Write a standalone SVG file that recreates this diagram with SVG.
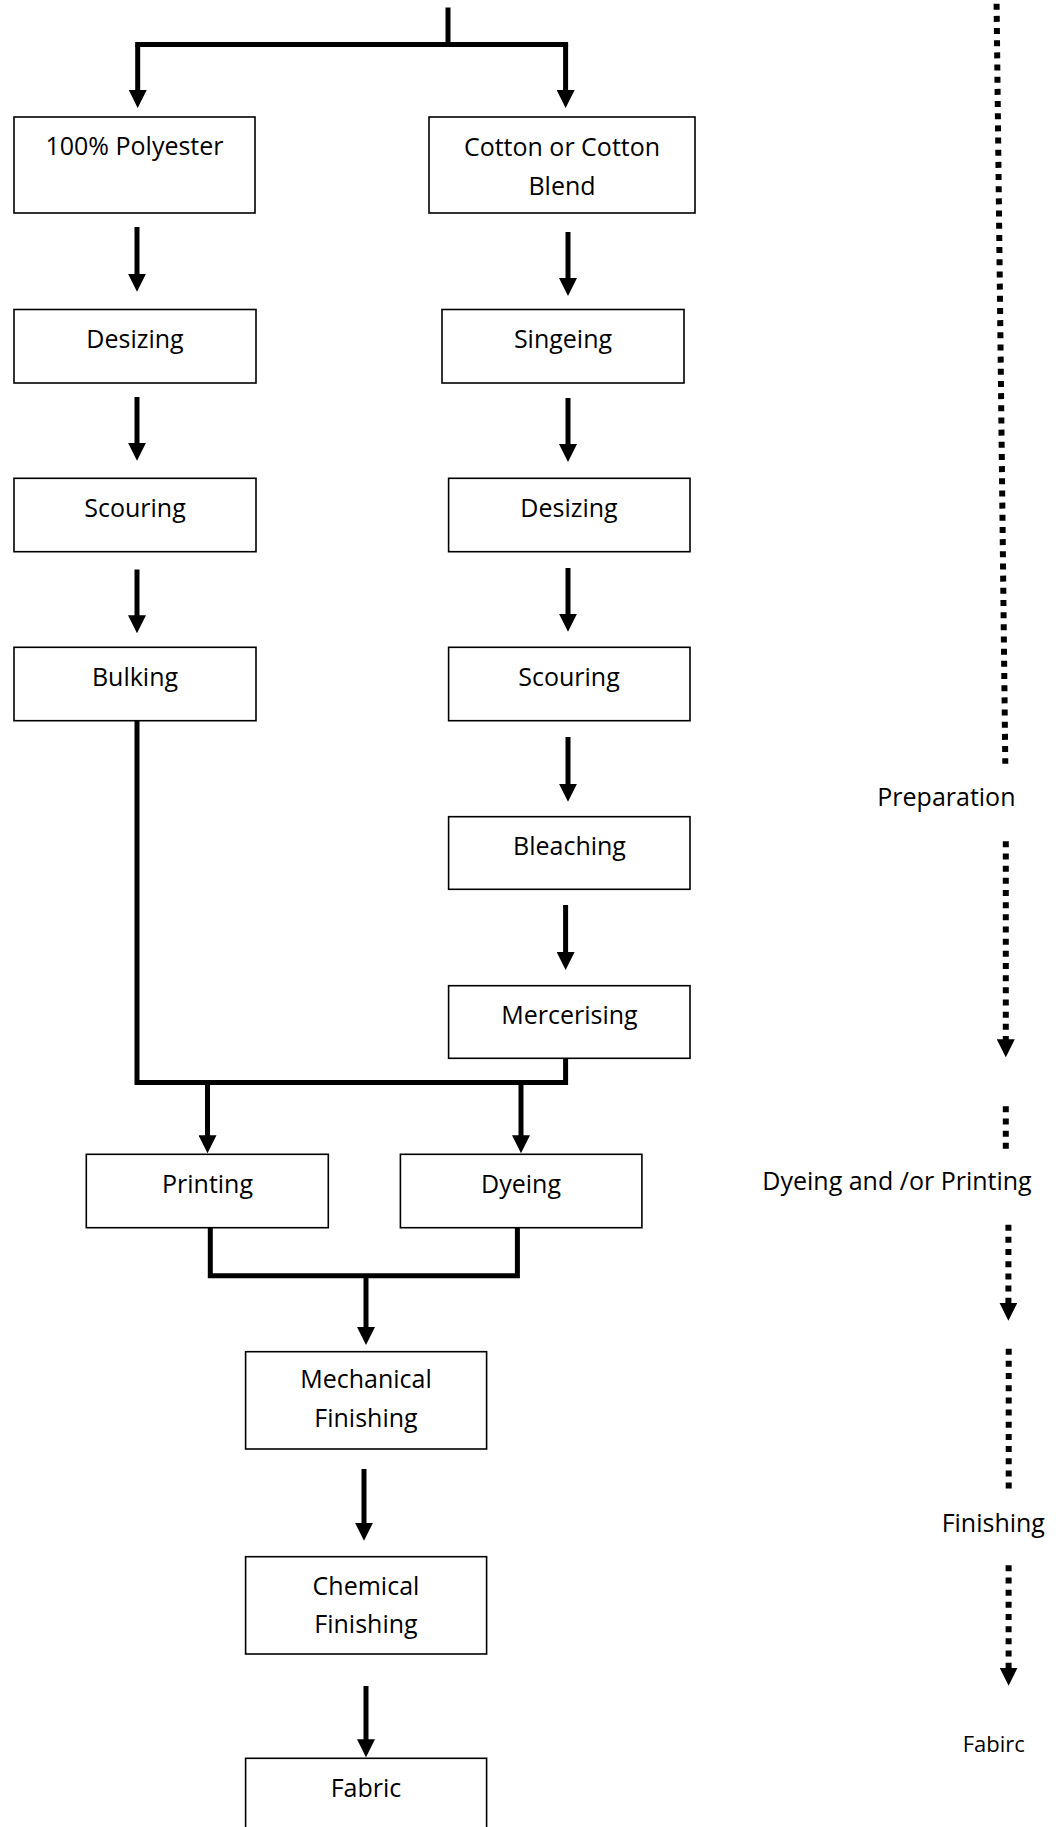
<svg xmlns="http://www.w3.org/2000/svg" width="1063" height="1827" viewBox="0 0 1063 1827">
  <style>
    .box { fill: #fff; stroke: #000; stroke-width: 1.6; }
    .lbl { font-family: "Open Sans", "Noto Sans", "Liberation Sans", sans-serif; font-size: 25px; fill: #000; text-anchor: middle; }
    .small { font-size: 22px; }
    .wire { fill: none; stroke: #000; stroke-width: 5; stroke-linecap: square; }
    .arrow { fill: none; stroke: #000; stroke-width: 5; marker-end: url(#head); }
    .dots { fill: none; stroke: #000; stroke-width: 6; stroke-dasharray: 6 6.17; }
    .dotarrow { fill: none; stroke: #000; stroke-width: 6; stroke-dasharray: 6 6.17; marker-end: url(#head); }
  </style>
  <defs>
    <marker id="head" markerUnits="userSpaceOnUse" markerWidth="18" markerHeight="18" refX="8" refY="9" orient="auto">
      <path d="M0,0 L18,9 L0,18 Z" fill="#000"/>
    </marker>
  </defs>
  <rect width="1063" height="1827" fill="#fff"/>

  <!-- process flow connectors -->
  <g id="connectors">
    <line class="wire" x1="448" y1="10" x2="448" y2="44.5"/>
    <line class="wire" x1="137.7" y1="44.5" x2="565.6" y2="44.5"/>
    <line class="arrow" x1="137.7" y1="44.5" x2="137.7" y2="98"/>
    <line class="arrow" x1="565.6" y1="44.5" x2="565.6" y2="98"/>

    <line class="arrow" x1="137" y1="227" x2="137" y2="281.7"/>
    <line class="arrow" x1="568" y1="232" x2="568" y2="286"/>
    <line class="arrow" x1="137" y1="397" x2="137" y2="450.7"/>
    <line class="arrow" x1="568" y1="398" x2="568" y2="452"/>
    <line class="arrow" x1="137" y1="569.5" x2="137" y2="623.3"/>
    <line class="arrow" x1="568" y1="568" x2="568" y2="621.7"/>
    <line class="arrow" x1="568" y1="737" x2="568" y2="791.7"/>
    <line class="arrow" x1="565.6" y1="905" x2="565.6" y2="960"/>

    <polyline class="wire" points="137,721 137,1082.5 565.6,1082.5 565.6,1058.5"/>
    <line class="arrow" x1="207.5" y1="1082.5" x2="207.5" y2="1143.3"/>
    <line class="arrow" x1="521" y1="1082.5" x2="521" y2="1143.3"/>

    <polyline class="wire" points="210.3,1228 210.3,1275.8 517.4,1275.8 517.4,1228"/>
    <line class="arrow" x1="366" y1="1275.8" x2="366" y2="1335"/>
    <line class="arrow" x1="364" y1="1469" x2="364" y2="1530.7"/>
    <line class="arrow" x1="366" y1="1686" x2="366" y2="1747.3"/>
  </g>

  <!-- stage timeline on the right -->
  <g id="stages">
    <line class="dots" x1="996.6" y1="3.7" x2="1005.3" y2="763.7"/>
    <line class="dotarrow" x1="1005.8" y1="841.3" x2="1005.8" y2="1047.3"/>
    <line class="dots" x1="1005.8" y1="1106.3" x2="1005.8" y2="1149.5"/>
    <line class="dotarrow" x1="1008.4" y1="1224.7" x2="1008.4" y2="1310.7"/>
    <line class="dots" x1="1008.7" y1="1348.7" x2="1008.7" y2="1488.5"/>
    <line class="dotarrow" x1="1008.6" y1="1565.3" x2="1008.6" y2="1675.7"/>
    <text class="lbl" x="946.4" y="806">Preparation</text>
    <text class="lbl" x="897" y="1190">Dyeing and /or Printing</text>
    <text class="lbl" x="993.3" y="1531.7">Finishing</text>
    <text class="lbl small" x="993.8" y="1751.7">Fabirc</text>
  </g>

  <g id="polyester">
    <rect class="box" x="14" y="117" width="241" height="96"/>
    <text class="lbl" x="134.5" y="155">100% Polyester</text>
  </g>
  <g id="cotton">
    <rect class="box" x="429" y="117" width="266" height="96"/>
    <text class="lbl" x="562" y="156">Cotton or Cotton</text>
    <text class="lbl" x="562" y="195">Blend</text>
  </g>
  <g id="desizing-poly">
    <rect class="box" x="14" y="309.5" width="242" height="73.5"/>
    <text class="lbl" x="135" y="348">Desizing</text>
  </g>
  <g id="singeing">
    <rect class="box" x="442" y="309.5" width="242" height="73.5"/>
    <text class="lbl" x="563" y="348">Singeing</text>
  </g>
  <g id="scouring-poly">
    <rect class="box" x="14" y="478.3" width="242" height="73.4"/>
    <text class="lbl" x="135" y="517">Scouring</text>
  </g>
  <g id="desizing-cotton">
    <rect class="box" x="448.6" y="478.3" width="241.4" height="73.4"/>
    <text class="lbl" x="569" y="517">Desizing</text>
  </g>
  <g id="bulking">
    <rect class="box" x="14" y="647.3" width="242" height="73.4"/>
    <text class="lbl" x="135" y="686">Bulking</text>
  </g>
  <g id="scouring-cotton">
    <rect class="box" x="448.6" y="647.3" width="241.4" height="73.4"/>
    <text class="lbl" x="569" y="686">Scouring</text>
  </g>
  <g id="bleaching">
    <rect class="box" x="448.6" y="816.7" width="241.4" height="72.6"/>
    <text class="lbl" x="569.5" y="855">Bleaching</text>
  </g>
  <g id="mercerising">
    <rect class="box" x="448.6" y="985.7" width="241.4" height="72.6"/>
    <text class="lbl" x="569.5" y="1023.5">Mercerising</text>
  </g>
  <g id="printing">
    <rect class="box" x="86.3" y="1154.3" width="242" height="73.4"/>
    <text class="lbl" x="207.5" y="1193">Printing</text>
  </g>
  <g id="dyeing">
    <rect class="box" x="400.4" y="1154.3" width="241.5" height="73.4"/>
    <text class="lbl" x="521" y="1193">Dyeing</text>
  </g>
  <g id="mechanical-finishing">
    <rect class="box" x="245.6" y="1351.7" width="241" height="97.3"/>
    <text class="lbl" x="366" y="1388.3">Mechanical</text>
    <text class="lbl" x="366" y="1426.7">Finishing</text>
  </g>
  <g id="chemical-finishing">
    <rect class="box" x="245.6" y="1556.7" width="241" height="97.3"/>
    <text class="lbl" x="366" y="1595">Chemical</text>
    <text class="lbl" x="366" y="1633.3">Finishing</text>
  </g>
  <g id="fabric">
    <rect class="box" x="245.6" y="1758.3" width="241" height="100"/>
    <text class="lbl" x="366" y="1796.7">Fabric</text>
  </g>
</svg>
